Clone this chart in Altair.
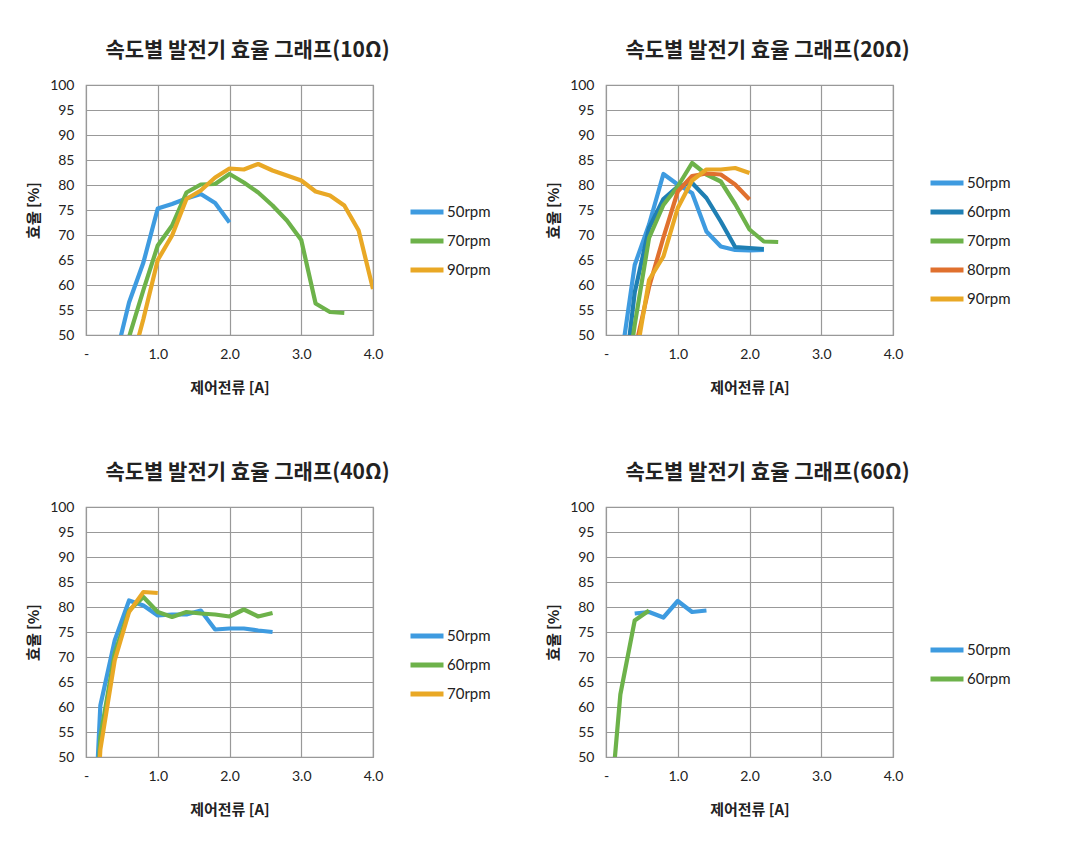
import altair as alt
import pandas as pd

# ---- data ----
# Panel 1: 10 ohm
p1_names = ["50rpm", "70rpm", "90rpm"]
p1_x50 = [0.4, 0.6, 0.8, 1.0, 1.2, 1.4, 1.6, 1.8, 2.0]
p1_y50 = [44.7, 56.5, 64.5, 75.3, 76.2, 77.3, 78.2, 76.4, 72.5]
p1_x70 = [0.4, 0.6, 0.8, 1.0, 1.2, 1.4, 1.6, 1.8, 2.0, 2.2, 2.4, 2.6, 2.8, 3.0, 3.2, 3.4, 3.6]
p1_y70 = [40.0, 49.6, 59.0, 67.9, 71.9, 78.5, 80.1, 80.2, 82.2, 80.5, 78.5, 75.9, 72.9, 69.0, 56.3, 54.6, 54.4]
p1_x90 = [0.6, 0.8, 1.0, 1.2, 1.4, 1.6, 1.8, 2.0, 2.2, 2.4, 2.6, 2.8, 3.0, 3.2, 3.4, 3.6, 3.8, 4.0]
p1_y90 = [42.5, 53.2, 65.0, 69.9, 77.2, 78.9, 81.5, 83.3, 83.1, 84.2, 82.9, 81.9, 80.9, 78.7, 77.9, 75.9, 70.9, 59.2]

# Panel 2: 20 ohm
p2_names = ["50rpm", "60rpm", "70rpm", "80rpm", "90rpm"]
p2_x50 = [0.2, 0.4, 0.6, 0.8, 1.0, 1.2, 1.4, 1.6, 1.8, 2.0, 2.2]
p2_y50 = [44.0, 64.0, 72.1, 82.2, 80.1, 78.4, 70.7, 67.7, 67.0, 66.9, 67.0]
p2_x60 = [0.2, 0.4, 0.6, 0.8, 1.0, 1.2, 1.4, 1.6, 1.8, 2.0, 2.2]
p2_y60 = [34.0, 58.5, 71.4, 77.2, 79.7, 80.4, 77.4, 72.7, 67.6, 67.4, 67.2]
p2_x70 = [0.2, 0.4, 0.6, 0.8, 1.0, 1.2, 1.4, 1.6, 1.8, 2.0, 2.2, 2.4]
p2_y70 = [32.0, 52.0, 69.4, 76.0, 79.7, 84.4, 82.1, 80.7, 76.2, 71.1, 68.7, 68.6]
p2_x80 = [0.4, 0.6, 0.8, 1.0, 1.2, 1.4, 1.6, 1.8, 2.0]
p2_y80 = [46.8, 59.6, 69.5, 78.7, 81.8, 82.3, 82.1, 80.1, 77.1]
p2_x90 = [0.4, 0.6, 0.8, 1.0, 1.2, 1.4, 1.6, 1.8, 2.0]
p2_y90 = [44.0, 61.0, 65.7, 75.4, 80.9, 83.1, 83.1, 83.4, 82.4]

# Panel 3: 40 ohm
p3_names = ["50rpm", "60rpm", "70rpm"]
p3_x50 = [0.0, 0.2, 0.4, 0.6, 0.8, 1.0, 1.2, 1.4, 1.6, 1.8, 2.0, 2.2, 2.4, 2.6]
p3_y50 = [0.0, 60.3, 73.3, 81.3, 80.3, 78.3, 78.5, 78.5, 79.3, 75.5, 75.7, 75.7, 75.3, 75.0]
p3_x60 = [0.0, 0.2, 0.4, 0.6, 0.8, 1.0, 1.2, 1.4, 1.6, 1.8, 2.0, 2.2, 2.4, 2.6]
p3_y60 = [0.0, 54.0, 70.7, 79.3, 82.0, 79.0, 78.0, 79.0, 78.7, 78.5, 78.1, 79.5, 78.1, 78.8]
p3_x70 = [0.0, 0.2, 0.4, 0.6, 0.8, 1.0]
p3_y70 = [0.0, 51.5, 69.3, 79.0, 83.0, 82.8]

# Panel 4: 60 ohm
p4_names = ["50rpm", "60rpm"]
p4_x50 = [0.4, 0.6, 0.8, 1.0, 1.2, 1.4]
p4_y50 = [78.7, 79.0, 77.9, 81.2, 79.0, 79.3]
p4_x60 = [0.0, 0.1, 0.2, 0.4, 0.6]
p4_y60 = [0.0, 46.0, 62.5, 77.3, 79.3]

titles = ["속도별 발전기 효율 그래프(10Ω)", "속도별 발전기 효율 그래프(20Ω)",
          "속도별 발전기 효율 그래프(40Ω)", "속도별 발전기 효율 그래프(60Ω)"]
x_ticks = [0, 1, 2, 3, 4]
y_ticks = [50, 55, 60, 65, 70, 75, 80, 85, 90, 95, 100]

BLUE, DBLUE, GREEN, ORANGE, GOLD = "#3E9BE0", "#1F7FB3", "#6DB24A", "#E0702E", "#E9A825"

LABEL_FONT = "Lato"
KFONT = "Noto Sans CJK KR"


def make_df(names, xs, ys):
    rows = []
    for n, xv, yv in zip(names, xs, ys):
        for i, (a, b) in enumerate(zip(xv, yv)):
            rows.append({"series": n, "x": a, "y": b, "i": i})
    return pd.DataFrame(rows)


def panel(title, df, names, colors, legend_y):
    return alt.Chart(df).mark_line(strokeWidth=4.2, clip=True, strokeJoin="round").encode(
        x=alt.X("x:Q", scale=alt.Scale(domain=[0, 4], nice=False),
                axis=alt.Axis(values=x_ticks, title="제어전류 [A]",
                              labelExpr="datum.value == 0 ? '-' : format(datum.value, '.1f')",
                              labelPadding=12, titlePadding=19, labelFlush=False)),
        y=alt.Y("y:Q", scale=alt.Scale(domain=[50, 100], nice=False),
                axis=alt.Axis(values=y_ticks, title="효율 [%]", labelPadding=12, titlePadding=8,
                              labelFlush=False)),
        color=alt.Color("series:N", scale=alt.Scale(domain=names, range=colors),
                        legend=alt.Legend(title=None, orient="none", legendX=322, legendY=legend_y,
                                          symbolType="stroke", symbolSize=1089, symbolStrokeWidth=5,
                                          labelFont=LABEL_FONT, labelFontSize=15, labelColor="#222222",
                                          rowPadding=-3, padding=0, labelOffset=1)),
        order="i:Q",
    ).properties(
        width=287, height=250,
        title=alt.TitleParams(title, fontSize=21, font=KFONT, fontWeight="bold",
                              color="#222222", anchor="middle", dx=18, offset=17),
    )


c1 = panel(titles[0], make_df(p1_names, [p1_x50, p1_x70, p1_x90], [p1_y50, p1_y70, p1_y90]),
           p1_names, [BLUE, GREEN, GOLD], 108)
c2 = panel(titles[1], make_df(p2_names, [p2_x50, p2_x60, p2_x70, p2_x80, p2_x90],
                              [p2_y50, p2_y60, p2_y70, p2_y80, p2_y90]),
           p2_names, [BLUE, DBLUE, GREEN, ORANGE, GOLD], 79)
c3 = panel(titles[2], make_df(p3_names, [p3_x50, p3_x60, p3_x70], [p3_y50, p3_y60, p3_y70]),
           p3_names, [BLUE, GREEN, GOLD], 110)
c4 = panel(titles[3], make_df(p4_names, [p4_x50, p4_x60], [p4_y50, p4_y60]),
           p4_names, [BLUE, GREEN], 124)

row1 = alt.hconcat(c1, c2, spacing=54).resolve_scale(color="independent").resolve_legend(color="independent")
row2 = alt.hconcat(c3, c4, spacing=54).resolve_scale(color="independent").resolve_legend(color="independent")

chart = alt.vconcat(row1, row2, spacing=65).resolve_scale(color="independent").resolve_legend(
    color="independent"
).properties(
    padding={"left": 18, "top": 31, "right": 5, "bottom": 5},
    background="white",
).configure_view(
    stroke="#999999", strokeWidth=1.2
).configure_axis(
    grid=True, gridColor="#999999", gridWidth=1.2, domain=False, ticks=False,
    labelFont=LABEL_FONT, labelFontSize=14, labelColor="#222222",
    titleFont=KFONT, titleFontSize=15, titleFontWeight="bold", titleColor="#222222",
)

chart.save("out.html", embed_options={"renderer": "svg", "actions": False})
